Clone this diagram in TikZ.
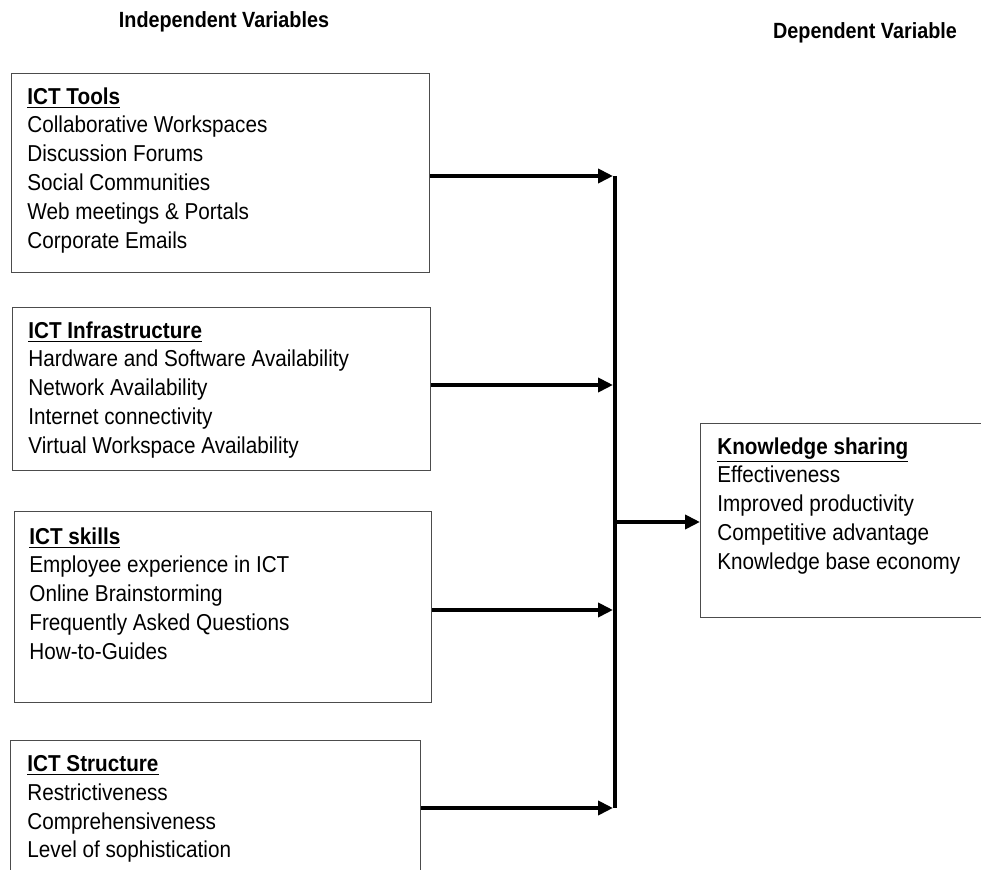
\documentclass[tikz,border=0pt]{standalone}
\usepackage{fontspec}
\setmainfont{Liberation Sans}[FakeStretch=0.9]
\usetikzlibrary{positioning,arrows.meta}

\tikzset{
  varbox/.style={draw=black!70, line width=0.6pt, anchor=north west, inner sep=0pt},
  vartext/.style={anchor=north west, align=left, inner sep=0pt, font={\fontsize{11.5}{14.4}\selectfont}},
  heading/.style={inner sep=0pt, font={\fontsize{11}{13}\selectfont\bfseries}},
  link/.style={line width=2pt, -{Triangle[length=7.5pt,width=7pt]}}
}

\begin{document}
\begin{tikzpicture}[x=0.5pt,y=-0.5pt]
\useasboundingbox (0,0) rectangle (981,870);

% headings
\node[heading] (indep) at (224,22) {Independent Variables};
\node[heading] (dep) at (865,33) {Dependent Variable};

% independent variable boxes
\node[varbox, minimum width=209pt, minimum height=99.5pt] (tools) at (11,73) {};
\node[vartext] (toolstext) at (27,87) {\underline{\textbf{ICT Tools}}\\Collaborative Workspaces\\Discussion Forums\\Social Communities\\Web meetings \& Portals\\Corporate Emails};

\node[varbox, minimum width=209pt, minimum height=81.5pt] (infra) at (12,307) {};
\node[vartext] (infratext) at (28,321) {\underline{\textbf{ICT Infrastructure}}\\Hardware and Software Availability\\Network Availability\\Internet connectivity\\Virtual Workspace Availability};

\node[varbox, minimum width=208.5pt, minimum height=95.5pt] (skills) at (14,511) {};
\node[vartext] (skillstext) at (29,527) {\underline{\textbf{ICT skills}}\\Employee experience in ICT\\Online Brainstorming\\Frequently Asked Questions\\How-to-Guides};

\node[varbox, minimum width=205pt, minimum height=80pt] (struct) at (10,740) {};
\node[vartext] (structtext) at (27,755) {\underline{\textbf{ICT Structure}}\\Restrictiveness\\Comprehensiveness\\Level of sophistication};

% dependent variable box
\node[varbox, minimum width=150pt, minimum height=97pt] (ks) at (700,423) {};
\node[vartext] (kstext) at (717,437) {\underline{\textbf{Knowledge sharing}}\\Effectiveness\\Improved productivity\\Competitive advantage\\Knowledge base economy};

% collecting bar
\coordinate (bartop) at (615,176);
\coordinate (barbot) at (615,808);
\coordinate (j1) at (613,176);
\coordinate (j2) at (613,385);
\coordinate (j3) at (613,610);
\coordinate (j4) at (613,808);
\coordinate (jout) at (615,522);
\draw[line width=2pt] (bartop) -- (barbot);

\draw[link] (tools.east |- j1) -- (j1);
\draw[link] (infra.east |- j2) -- (j2);
\draw[link] (skills.east |- j3) -- (j3);
\draw[link] (struct.east |- j4) -- (j4);
\draw[link] (jout) -- (jout -| ks.west);
\end{tikzpicture}
\end{document}
